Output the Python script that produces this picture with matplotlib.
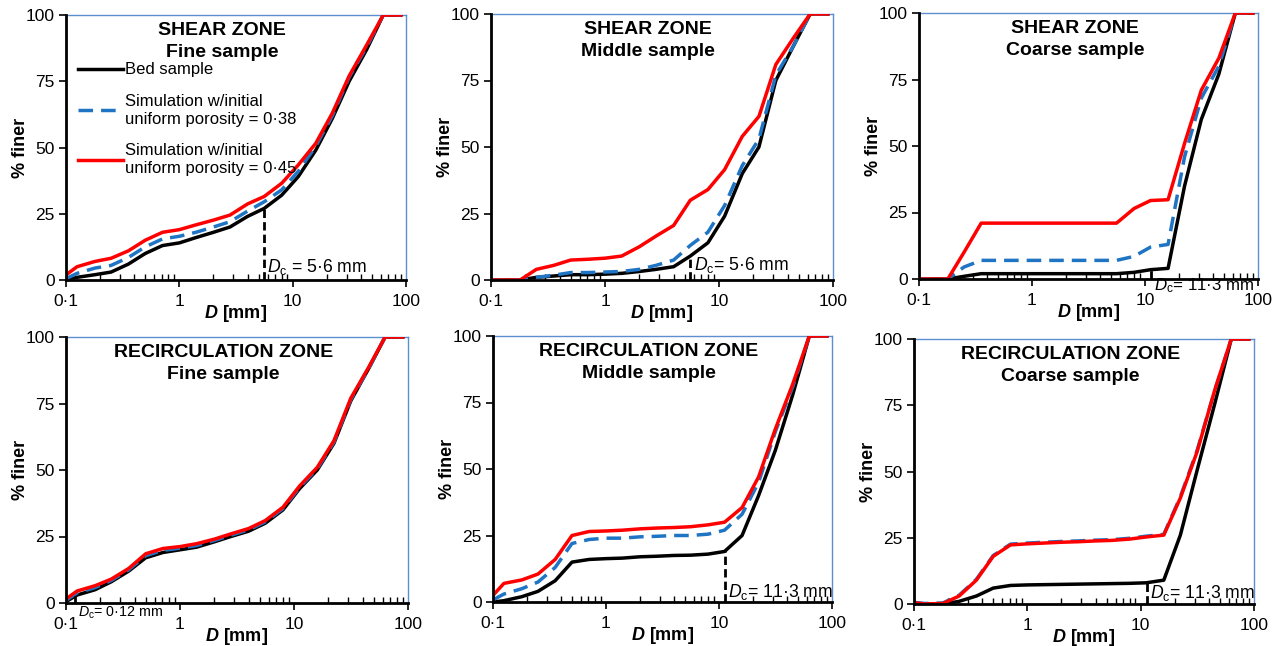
import numpy as np
import matplotlib.pyplot as plt
import matplotlib.ticker as mticker

plt.rcParams['font.family'] = 'Liberation Sans'
plt.rcParams['mathtext.fontset'] = 'custom'
plt.rcParams['mathtext.rm'] = 'Liberation Sans'
plt.rcParams['mathtext.it'] = 'Liberation Sans:italic'
plt.rcParams['mathtext.bf'] = 'Liberation Sans:bold'
try:
    plt.rcParams['mathtext.bfit'] = 'Liberation Sans:bold:italic'
    XLABEL = r'$\mathbfit{D}$ [mm]'
except KeyError:
    XLABEL = r'$\mathit{D}$ [mm]'

# sieve sizes [mm]
sizes = [0.1, 0.125, 0.18, 0.25, 0.355, 0.5, 0.71, 1, 1.4, 2, 2.8, 4, 5.6,
         8, 11.2, 16, 22.4, 31.5, 45, 63, 90]

# % finer: bed sample, simulation (porosity 0.38), simulation (porosity 0.45)
shear_fine_bed = [0, 1, 2, 3, 6, 10, 13, 14, 16, 18, 20, 24, 27,
                  32, 39, 49, 61, 75, 87, 100, 100]
shear_fine_038 = [0.5, 2.5, 4.5, 5.5, 8.5, 12.5, 15.5, 16.5, 18, 20, 22, 26, 29.5,
                  34, 41, 50.5, 62, 76.5, 88, 100, 100]
shear_fine_045 = [1.9, 5, 7, 8.2, 11, 15, 18, 19, 20.8, 22.6, 24.5, 28.7, 31.5,
                  36.5, 43.4, 51.6, 63, 77, 88.7, 100, 100]

shear_mid_bed = [0, 0, 0, 1, 1.5, 2, 2, 2.2, 2.5, 3.2, 4, 5, 9,
                 14, 24, 40, 50, 75, 88, 100, 100]
shear_mid_038 = [0, 0, 0, 1, 1.8, 2.8, 2.8, 3, 3.2, 4, 5.5, 7.5, 13,
                 18, 28, 43, 53, 77, 88, 100, 100]
shear_mid_045 = [0, 0, 0, 4, 5.5, 7.5, 7.8, 8.2, 9, 12.5, 16.5, 20.5, 30,
                 34, 41.5, 54, 61.5, 81, 91, 100, 100]

shear_coarse_bed = [0, 0, 0, 1, 2, 2, 2, 2, 2, 2, 2, 2, 2,
                    2.5, 3.5, 4, 35, 60, 77, 100, 100]
shear_coarse_038 = [0, 0, 0, 4.5, 7, 7, 7, 7, 7, 7, 7, 7, 7,
                    8.5, 12, 13, 46, 68, 80, 100, 100]
shear_coarse_045 = [0, 0, 0, 10, 21, 21, 21, 21, 21, 21, 21, 21, 21,
                    26.5, 29.5, 29.8, 51, 71, 83, 100, 100]

recirc_fine_bed = [0.5, 3, 5, 8, 12, 17, 19, 20, 21, 23, 25, 27, 30,
                   35, 43, 50, 60, 76, 88, 100, 100]
recirc_fine_038 = [1, 3.8, 5.8, 8.5, 12.5, 17.8, 19.8, 20.6, 21.6, 23.5, 25.5, 27.5, 30.5,
                   35.5, 43.5, 50.5, 60.5, 76.5, 88, 100, 100]
recirc_fine_045 = [1.5, 4.5, 6.5, 9, 13, 18.5, 20.5, 21.2, 22.3, 24, 26, 28, 31,
                   36, 44, 51, 61, 77, 88.5, 100, 100]

recirc_mid_bed = [0, 0.5, 2, 4, 8, 15, 16, 16.3, 16.5, 17, 17.2, 17.5, 17.6,
                  18, 19, 25, 40, 57, 78, 100, 100]
recirc_mid_038 = [0.8, 3, 5, 7.5, 13, 22, 23.5, 24, 24, 24.5, 24.7, 25, 25,
                  25.5, 27, 33, 45, 64, 81, 100, 100]
recirc_mid_045 = [2.5, 7, 8.3, 10.5, 16, 25, 26.5, 26.7, 27, 27.5, 27.8, 28, 28.3,
                  29, 30, 35.5, 47, 65, 82, 100, 100]

recirc_coarse_bed = [0, 0, 0, 1, 3, 6, 7, 7.2, 7.3, 7.4, 7.5, 7.6, 7.7,
                     7.8, 8, 9, 26, 50.5, 75.5, 100, 100]
recirc_coarse_038 = [0.6, 0.2, 0.4, 3.3, 9.3, 18.3, 22.6, 23, 23.3, 23.6, 23.8, 24.1, 24.3,
                     24.8, 25.6, 26.3, 40.5, 58, 80.5, 100, 100]
recirc_coarse_045 = [0.5, 0, 0.2, 3, 9, 18, 22.3, 22.7, 23, 23.3, 23.5, 23.8, 24,
                     24.5, 25.3, 26, 40, 57.5, 80.7, 100, 100]

zones = ['SHEAR ZONE', 'SHEAR ZONE', 'SHEAR ZONE',
         'RECIRCULATION ZONE', 'RECIRCULATION ZONE', 'RECIRCULATION ZONE']
samples = ['Fine sample', 'Middle sample', 'Coarse sample',
           'Fine sample', 'Middle sample', 'Coarse sample']
bed = [shear_fine_bed, shear_mid_bed, shear_coarse_bed,
       recirc_fine_bed, recirc_mid_bed, recirc_coarse_bed]
sim038 = [shear_fine_038, shear_mid_038, shear_coarse_038,
          recirc_fine_038, recirc_mid_038, recirc_coarse_038]
sim045 = [shear_fine_045, shear_mid_045, shear_coarse_045,
          recirc_fine_045, recirc_mid_045, recirc_coarse_045]

# characteristic diameter D_c and its label text
dc_values = [5.6, 5.6, 11.3, 0.12, 11.3, 11.3]
dc_texts = [' = 5·6 mm', '= 5·6 mm', '= 11·3 mm', '= 0·12 mm', '= 11·3 mm', '= 11·3 mm']
dc_label_y = [5, 5.7, -2.4, -3.8, 3.8, 4.1]
dc_label_size = [12.7, 12.7, 12.2, 10.3, 12.7, 12.7]

# axes rectangles in pixels (left, top, right, bottom)
W, H = 1279, 646
rects_px = [(66, 15, 406, 280), (491, 14, 833, 280), (919, 13, 1258, 279),
            (66, 337, 408, 603), (493, 336, 832, 602), (914, 339, 1254, 604)]

BLUE = '#1f74c4'
SPINE_BLUE = '#5b8fcf'

fig = plt.figure(figsize=(W / 100, H / 100), dpi=100)

for i in range(6):
    x0, y0, x1, y1 = rects_px[i]
    ax = fig.add_axes([x0 / W, (H - y1) / H, (x1 - x0) / W, (y1 - y0) / H])

    ax.plot(sizes, bed[i], color='black', lw=2.5, label='Bed sample', zorder=3)
    ax.plot(sizes, sim038[i], color=BLUE, lw=2.5, dashes=(4.2, 2.3),
            label='Simulation w/initial\nuniform porosity = 0·38', zorder=4)
    ax.plot(sizes, sim045[i], color='#ff0000', lw=2.5,
            label='Simulation w/initial\nuniform porosity = 0·45', zorder=5)

    # vertical marker at D_c, up to the bed curve
    dc = dc_values[i]
    bed_at_dc = float(np.interp(np.log10(dc), np.log10(sizes), bed[i]))
    ax.plot([dc, dc], [0, bed_at_dc], color='black', lw=2, dashes=(3, 1.5),
            zorder=6, clip_on=False)
    ax.text(dc * 1.07, dc_label_y[i], r'$\mathit{D}_\mathrm{c}$' + dc_texts[i],
            fontsize=dc_label_size[i], ha='left', va='center', zorder=7)

    ax.text(0.46, 0.975, zones[i] + '\n' + samples[i], transform=ax.transAxes,
            ha='center', va='top', fontsize=14, fontweight='bold', linespacing=1.4)

    ax.set_xscale('log')
    ax.set_xlim(0.1, 100)
    ax.set_ylim(0, 100)
    ax.xaxis.set_major_locator(mticker.FixedLocator([0.1, 1, 10, 100]))
    ax.xaxis.set_major_formatter(mticker.FixedFormatter(['0·1', '1', '10', '100']))
    ax.xaxis.set_minor_locator(mticker.LogLocator(base=10, subs=range(2, 10)))
    ax.xaxis.set_minor_formatter(mticker.NullFormatter())
    ax.set_yticks([0, 25, 50, 75, 100])

    ax.tick_params(axis='x', which='major', direction='out', length=5, width=1.2,
                   labelsize=12.5, pad=5)
    ax.tick_params(axis='x', which='minor', direction='in', length=4, width=1.0)
    ax.tick_params(axis='y', which='major', direction='out', length=5, width=1.2,
                   labelsize=12.5, pad=3)

    for side in ('left', 'bottom'):
        ax.spines[side].set_color('black')
        ax.spines[side].set_linewidth(2)
        ax.spines[side].set_zorder(8)
    for side in ('top', 'right'):
        ax.spines[side].set_color(SPINE_BLUE)
        ax.spines[side].set_linewidth(1)

    ax.set_ylabel('% finer', fontsize=13, fontweight='bold', labelpad=-2)
    ax.set_xlabel(XLABEL, fontsize=13, fontweight='bold', labelpad=-4)

    if i == 0:
        ax.legend(loc='upper left', bbox_to_anchor=(0.0, 0.865), frameon=False,
                  fontsize=12, handlelength=2.7, handletextpad=0.15,
                  labelspacing=1.0, borderaxespad=0.3)

fig.savefig('out.png', dpi=100)
